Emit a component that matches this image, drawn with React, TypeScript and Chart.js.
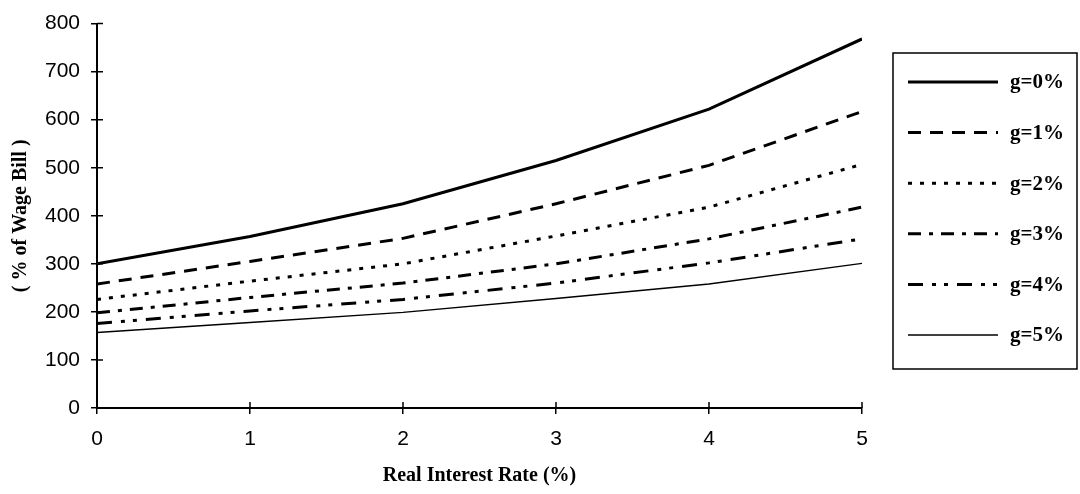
import React, { useEffect, useRef } from "react";
import { Chart, registerables } from "chart.js";

Chart.register(...registerables);

const rates = [0, 1, 2, 3, 4, 5];
const g0 = [300, 357, 425, 515, 622, 768];
const g1 = [258, 305, 353, 425, 505, 617];
const g2 = [226, 264, 300, 358, 418, 507];
const g3 = [198, 230, 260, 300, 352, 418];
const g4 = [176, 202, 226, 260, 302, 352];
const g5 = [157, 178, 199, 228, 258, 301];
const seriesLabels = ["g=0%", "g=1%", "g=2%", "g=3%", "g=4%", "g=5%"];
const yTicks = [0, 100, 200, 300, 400, 500, 600, 700, 800];
const xTitle = "Real Interest Rate (%)";
const yTitle = "( % of Wage Bill )";

const styles = [
  { dash: [] as number[], width: 3 },
  { dash: [13, 9], width: 3 },
  { dash: [4, 8], width: 3 },
  { dash: [13, 8, 4, 8], width: 3 },
  { dash: [15, 9, 4, 8, 4, 9], width: 3 },
  { dash: [] as number[], width: 1.4 },
];

const serif = "'Liberation Serif', 'Times New Roman', serif";
const sans = "'Liberation Sans', Arial, sans-serif";

const innerTicks = {
  id: "innerTicks",
  afterDatasetsDraw(chart: any) {
    const { ctx, chartArea, scales } = chart;
    ctx.save();
    ctx.strokeStyle = "#000";
    ctx.lineWidth = 1.5;
    ctx.beginPath();
    scales.y.ticks.forEach((t: any) => {
      const p = scales.y.getPixelForValue(t.value);
      ctx.moveTo(chartArea.left, p);
      ctx.lineTo(chartArea.left + 6, p);
    });
    scales.x.ticks.forEach((t: any) => {
      const p = scales.x.getPixelForValue(t.value);
      ctx.moveTo(p, chartArea.bottom);
      ctx.lineTo(p, chartArea.bottom - 6);
    });
    ctx.stroke();
    ctx.restore();
  },
};

const boxLegend = {
  id: "boxLegend",
  afterDraw(chart: any) {
    const { ctx } = chart;
    ctx.save();
    ctx.strokeStyle = "#000";
    ctx.lineWidth = 1.5;
    ctx.strokeRect(893, 53, 184, 316);
    chart.data.datasets.forEach((ds: any, i: number) => {
      const y = 82 + i * 50.6;
      ctx.beginPath();
      ctx.setLineDash(ds.borderDash || []);
      ctx.lineWidth = ds.borderWidth;
      ctx.strokeStyle = "#000";
      ctx.moveTo(908, y);
      ctx.lineTo(998, y);
      ctx.stroke();
      ctx.setLineDash([]);
      ctx.fillStyle = "#000";
      ctx.font = `bold 21px ${serif}`;
      ctx.textBaseline = "middle";
      ctx.textAlign = "left";
      ctx.fillText(ds.label, 1010, y + 1);
    });
    ctx.restore();
  },
};

export default function App() {
  const ref = useRef<HTMLCanvasElement | null>(null);
  useEffect(() => {
    if (!ref.current) return;
    const all = [g0, g1, g2, g3, g4, g5];
    const chart = new Chart(ref.current, {
      type: "line",
      data: {
        datasets: all.map((vals, i) => ({
          label: seriesLabels[i],
          data: rates.map((r, j) => ({ x: r, y: vals[j] })),
          borderColor: "#000",
          borderWidth: styles[i].width,
          borderDash: styles[i].dash,
          pointRadius: 0,
          tension: 0,
          fill: false,
        })),
      },
      options: {
        responsive: false,
        animation: false,
        layout: { padding: { left: 0, top: 16, right: 218, bottom: 0 } },
        plugins: { legend: { display: false }, tooltip: { enabled: false } },
        scales: {
          x: {
            type: "linear",
            min: 0,
            max: 5,
            afterFit: (s: any) => {
              s.height = 86;
            },
            ticks: {
              stepSize: 1,
              color: "#000",
              padding: 13,
              font: { family: sans, size: 21 },
            },
            grid: {
              drawOnChartArea: false,
              drawTicks: true,
              tickLength: 6,
              color: "#000",
              lineWidth: 1.5,
            },
            border: { display: true, color: "#000", width: 2 },
            title: {
              display: true,
              text: xTitle,
              color: "#000",
              font: { family: serif, size: 20, weight: "bold" },
              padding: { top: 0, bottom: 6 },
            },
          },
          y: {
            min: 0,
            max: 800,
            afterFit: (s: any) => {
              s.width = 97;
            },
            afterBuildTicks: (s: any) => {
              s.ticks = yTicks.map((v) => ({ value: v }));
            },
            ticks: {
              color: "#000",
              padding: 11,
              font: { family: sans, size: 21 },
            },
            grid: {
              drawOnChartArea: false,
              drawTicks: true,
              tickLength: 6,
              color: "#000",
              lineWidth: 1.5,
            },
            border: { display: true, color: "#000", width: 2 },
            title: {
              display: true,
              text: yTitle,
              color: "#000",
              font: { family: serif, size: 20, weight: "bold" },
              padding: { top: 9, bottom: 0 },
            },
          },
        },
      },
      plugins: [innerTicks, boxLegend],
    });
    return () => chart.destroy();
  }, []);
  return (
    <div style={{ position: "absolute", left: 0, top: 0, width: 1080, height: 494, background: "#fff" }}>
      <canvas ref={ref} width={1080} height={494} />
    </div>
  );
}
